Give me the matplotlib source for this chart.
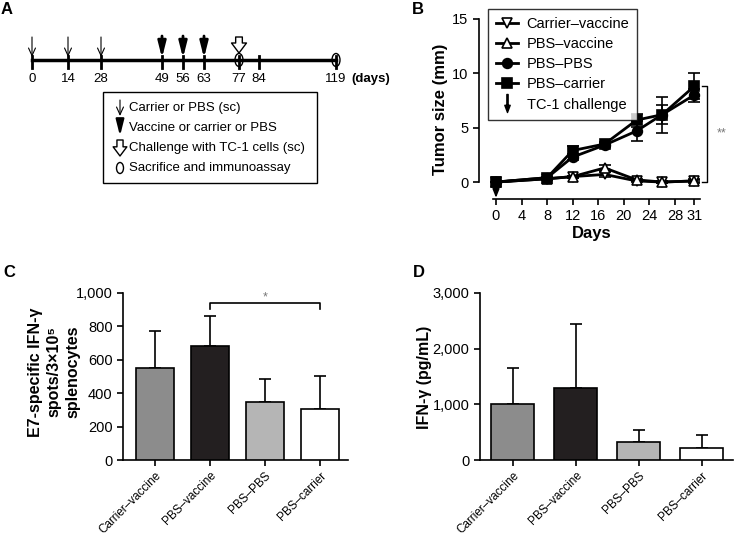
import numpy as np
import matplotlib.pyplot as plt
from matplotlib.patches import Ellipse, Rectangle
from matplotlib.lines import Line2D
from matplotlib.path import Path
from matplotlib.ticker import FuncFormatter

plt.rcParams['font.family'] = ['Liberation Sans', 'DejaVu Sans']

W, H = 734, 537

# ---- data ----
# panel A schedule
sched_days = [0, 14, 28, 49, 56, 63, 77, 84, 119]
sched_x = [32, 68, 101, 162, 183, 204, 239, 259, 336]   # schematic (not to scale)
thin_days = [0, 14, 28]
bold_days = [49, 56, 63]
challenge_days = [77]
sacrifice_days = [77, 119]
legend_a = ['Carrier or PBS (sc)', 'Vaccine or carrier or PBS',
            'Challenge with TC-1 cells (sc)', 'Sacrifice and immunoassay']

# panel B tumour growth
days = [0, 8, 12, 17, 22, 26, 31]
carrier_vaccine = [0, 0.3, 0.5, 0.7, 0.1, 0.0, 0.1]
carrier_vaccine_err = [0, 0.1, 0.1, 0.2, 0.1, 0.1, 0.1]
pbs_vaccine = [0, 0.3, 0.5, 1.3, 0.2, 0.0, 0.1]
pbs_vaccine_err = [0, 0.1, 0.1, 0.3, 0.1, 0.1, 0.2]
pbs_pbs = [0, 0.4, 2.3, 3.4, 4.7, 6.2, 8.0]
pbs_pbs_err = [0, 0.1, 0.3, 0.2, 0.9, 1.65, 0.6]
pbs_carrier = [0, 0.4, 2.9, 3.5, 5.7, 6.2, 8.8]
pbs_carrier_err = [0, 0.1, 0.4, 0.2, 0.6, 0.9, 1.2]

# panels C and D
groups = ['Carrier\u2013vaccine', 'PBS\u2013vaccine', 'PBS\u2013PBS', 'PBS\u2013carrier']
spots = [550, 685, 345, 305]
spots_err = [225, 180, 143, 198]
ifng = [1010, 1300, 330, 210]
ifng_err = [640, 1150, 210, 240]
bar_colors = ['#8c8c8c', '#231f20', '#b5b5b5', 'white']

fig = plt.figure(figsize=(W / 100, H / 100), dpi=100)


def px_axes(l, t, w, h):
    return fig.add_axes([l / W, 1 - (t + h) / H, w / W, h / H])


# ---- panel A (drawn in pixel coordinates) ----
axa = fig.add_axes([0, 0, 1, 1])
axa.set_xlim(0, W)
axa.set_ylim(H, 0)
axa.axis('off')

axa.plot([sched_x[0], sched_x[-1]], [60, 60], color='black', lw=2.5)
for d, x in zip(sched_days, sched_x):
    axa.plot([x, x], [56, 68], color='black', lw=2)
    axa.text(x, 79, str(d), ha='center', va='center', fontsize=9.5)
axa.text(351, 79, '(days)', ha='left', va='center', fontsize=9.5, fontweight='bold')

thin_arrow = dict(arrowstyle='->,head_width=0.25,head_length=0.55', mutation_scale=10,
                  lw=0.8, color='black', shrinkA=0, shrinkB=0)
bold_arrow = dict(arrowstyle='-|>,head_width=0.24,head_length=0.95', mutation_scale=10,
                  lw=2, color='black', shrinkA=0, shrinkB=0)
hollow_arrow = dict(arrowstyle='simple,head_width=0.9,head_length=0.6,tail_width=0.4',
                    mutation_scale=12, fc='white', ec='black', lw=1,
                    shrinkA=0, shrinkB=0)

xmap = dict(zip(sched_days, sched_x))
for d in thin_days:
    axa.annotate('', xy=(xmap[d], 57), xytext=(xmap[d], 37), arrowprops=thin_arrow)
for d in bold_days:
    axa.annotate('', xy=(xmap[d], 58), xytext=(xmap[d], 36), arrowprops=bold_arrow)
for d in challenge_days:
    axa.annotate('', xy=(xmap[d], 53), xytext=(xmap[d], 37), arrowprops=hollow_arrow)
for d in sacrifice_days:
    axa.add_patch(Ellipse((xmap[d], 60), 8, 13, fc='none', ec='black', lw=1))

axa.add_patch(Rectangle((103, 92), 214, 91, fc='none', ec='black', lw=1))
rows = [108, 128, 148, 168]
axa.annotate('', xy=(120, rows[0] + 8), xytext=(120, rows[0] - 8), arrowprops=thin_arrow)
axa.annotate('', xy=(120, rows[1] + 8), xytext=(120, rows[1] - 8),
             arrowprops=dict(bold_arrow, lw=1.6))
axa.annotate('', xy=(120, rows[2] + 8), xytext=(120, rows[2] - 8),
             arrowprops=dict(hollow_arrow, mutation_scale=11))
axa.add_patch(Ellipse((120, rows[3]), 7, 11, fc='none', ec='black', lw=1))
for r, t in zip(rows, legend_a):
    axa.text(129, r, t, ha='left', va='center', fontsize=9.5)

# ---- panel B ----
axb = px_axes(479, 19, 225, 180)
axb.set_xlim(-2.66, 32.55)
axb.set_ylim(-1.56, 15)

series = [
    ('Carrier\u2013vaccine', carrier_vaccine, carrier_vaccine_err, 'v', 'white'),
    ('PBS\u2013vaccine', pbs_vaccine, pbs_vaccine_err, '^', 'white'),
    ('PBS\u2013PBS', pbs_pbs, pbs_pbs_err, 'o', 'black'),
    ('PBS\u2013carrier', pbs_carrier, pbs_carrier_err, 's', 'black'),
]
handles = []
for lab, y, e, m, fc in series:
    axb.errorbar(days, y, yerr=e, color='black', lw=2, elinewidth=1.2,
                 capsize=4, capthick=1.2, marker=m, ms=7, mfc=fc, mec='black',
                 mew=1.2, clip_on=False, zorder=3)
    handles.append(Line2D([], [], color='black', lw=2, marker=m, ms=7,
                          mfc=fc, mec='black', mew=1.2, label=lab))

arrow_path = Path([(-0.07, 1), (0.07, 1), (0.07, -0.2), (-0.07, -0.2), (-0.07, 1),
                   (-0.3, -0.2), (0.3, -0.2), (0, -1), (-0.3, -0.2)],
                  [Path.MOVETO, Path.LINETO, Path.LINETO, Path.LINETO, Path.CLOSEPOLY,
                   Path.MOVETO, Path.LINETO, Path.LINETO, Path.CLOSEPOLY])
handles.append(Line2D([], [], ls='none', marker=arrow_path, ms=13, color='black',
                      label='TC-1 challenge'))
axb.annotate('', xy=(0, -1.45), xytext=(0, -0.1),
             arrowprops=dict(arrowstyle='-|>,head_width=0.2,head_length=0.5',
                             lw=1.2, color='black', shrinkA=0, shrinkB=0),
             annotation_clip=False)

leg = axb.legend(handles=handles, loc='upper left',
                 bbox_to_anchor=((488 - 479) / 225, (199 - 9) / 180),
                 frameon=True, fancybox=False, edgecolor='black', fontsize=10.5,
                 handlelength=1.5, handletextpad=0.6, labelspacing=0.42,
                 borderpad=0.55, borderaxespad=0)
leg.get_frame().set_linewidth(1)

axb.plot([32.3, 33.0, 33.0, 32.3], [8.8, 8.8, 0, 0], color='black', lw=1, clip_on=False)
axb.text(35.3, 4.5, '**', ha='center', va='center', fontsize=9, color='#777777')

axb.set_xticks([0, 4, 8, 12, 16, 20, 24, 28, 31])
axb.set_yticks([0, 5, 10, 15])
axb.spines[['top', 'right']].set_visible(False)
axb.spines['left'].set_bounds(0, 15)
axb.spines['bottom'].set_bounds(-0.5, 32)
for s in ['left', 'bottom']:
    axb.spines[s].set_linewidth(1.2)
axb.tick_params(labelsize=10.5, width=1.2, length=4)
axb.set_xlabel('Days', fontsize=12, fontweight='bold', labelpad=2)
axb.set_ylabel('Tumor size (mm)', fontsize=12, fontweight='bold', labelpad=3)

# ---- panels C and D ----
comma = FuncFormatter(lambda v, p: f'{int(v):,}')


def bar_panel(ax, vals, errs, ymax, step, xl):
    x = np.arange(len(groups))
    ax.bar(x, vals, width=0.68, color=bar_colors, edgecolor='black', lw=1.2, zorder=3)
    ax.errorbar(x, vals, yerr=[np.zeros(len(errs)), errs], fmt='none', ecolor='black',
                elinewidth=1.2, capsize=4, capthick=1.2, zorder=2)
    ax.set_xlim(*xl)
    ax.set_ylim(0, ymax)
    ax.set_yticks(np.arange(0, ymax + 1, step))
    ax.yaxis.set_major_formatter(comma)
    ax.set_xticks(x)
    ax.set_xticklabels(groups, rotation=45, ha='right', rotation_mode='anchor',
                       fontsize=8.5)
    ax.spines[['top', 'right']].set_visible(False)
    for s in ['left', 'bottom']:
        ax.spines[s].set_linewidth(1.2)
    ax.tick_params(axis='y', labelsize=10.5)
    ax.tick_params(width=1.2, length=4)
    ax.tick_params(axis='x', pad=3)


axc = px_axes(123, 293, 225, 167)
bar_panel(axc, spots, spots_err, 1000, 200, (-0.58, 3.51))
axc.plot([1, 1, 3, 3], [905, 940, 940, 905], color='black', lw=1.2, clip_on=False)
axc.text(2, 976, '*', ha='center', va='center', fontsize=9, color='#777777')
fig.text(54 / W, 1 - 372 / H, 'E7-specific IFN-\u03b3\nspots/3\u00d710\u2075\nsplenocytes',
         rotation=90, ha='center', va='center', multialignment='center',
         fontsize=11.5, fontweight='bold', linespacing=1.3)

axd = px_axes(480, 293, 253, 167)
bar_panel(axd, ifng, ifng_err, 3000, 1000, (-0.52, 3.50))
fig.text(425 / W, 1 - 377 / H, 'IFN-\u03b3 (pg/mL)', rotation=90, ha='center',
         va='center', fontsize=11.5, fontweight='bold')

# panel letters
for lab, x, y in [('A', 1, 2), ('B', 412, 2), ('C', 3, 265), ('D', 413, 265)]:
    fig.text(x / W, 1 - y / H, lab, ha='left', va='top', fontsize=12, fontweight='bold')

fig.savefig('out.png', dpi=100)
